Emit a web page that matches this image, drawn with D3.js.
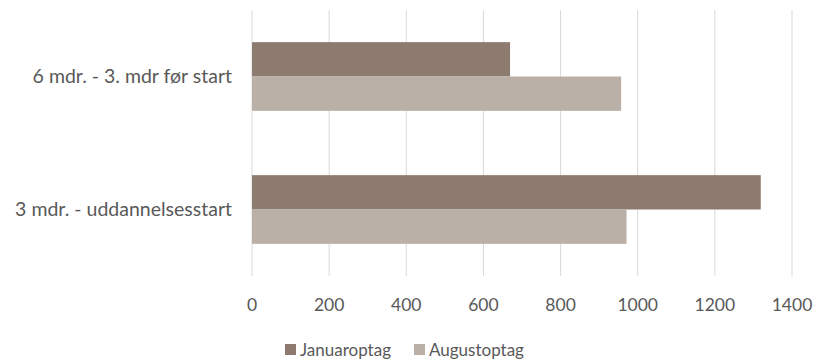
<!DOCTYPE html>
<html><head><meta charset="utf-8">
<script src="https://cdn.jsdelivr.net/npm/d3@7"></script>
<style>body{margin:0;background:#fff}svg{display:block}text{font-family:Lato,"Open Sans",sans-serif;fill:#595959}</style>
</head><body><svg id="c" width="813" height="359"></svg>
<script>
const categories = ["6 mdr. - 3. mdr før start", "3 mdr. - uddannelsesstart"];
const seriesNames = ["Januaroptag", "Augustoptag"];
const januar = [669, 1319];
const august = [957, 971];
const ticks = [0, 200, 400, 600, 800, 1000, 1200, 1400];
const colors = ["#8d7b6f", "#bbb0a7"];

(function () {
const svg = d3.select("#c");
const pL = 252, pR = 792, pT = 10, pB = 276;
const x = d3.scaleLinear().domain([0, 1400]).range([pL, pR]);
const y = d3.scaleBand().domain(categories).range([pT, pB]);
const inner = d3.scaleBand().domain(seriesNames).range([0, 68.7]);
const values = [januar, august];

svg.append("g").selectAll("line").data(ticks).join("line")
  .attr("x1", d => x(d)).attr("x2", d => x(d))
  .attr("y1", pT).attr("y2", pB)
  .attr("stroke", "#d9d9d9").attr("stroke-width", 1);

categories.forEach((c, ci) => {
  const y0 = y(c) + (y.bandwidth() - 68.7) / 2;
  seriesNames.forEach((s, si) => {
    svg.append("rect")
      .attr("x", x(0)).attr("y", y0 + inner(s))
      .attr("width", x(values[si][ci]) - x(0))
      .attr("height", inner.bandwidth())
      .attr("fill", colors[si]);
  });
});

svg.append("g").selectAll("text").data(ticks).join("text")
  .attr("x", d => x(d)).attr("y", 305).attr("dy", "0.35em")
  .attr("text-anchor", "middle").attr("font-size", 17.5).text(d => d);

svg.append("g").selectAll("text").data(categories).join("text")
  .attr("x", 232).attr("y", d => y(d) + y.bandwidth() / 2).attr("dy", "0.35em")
  .attr("text-anchor", "end").attr("font-size", 19.5).text(d => d);

const legX = [285, 414];
seriesNames.forEach((s, i) => {
  svg.append("rect").attr("x", legX[i]).attr("y", 344).attr("width", 11).attr("height", 11).attr("fill", colors[i]);
  svg.append("text").attr("x", legX[i] + 15).attr("y", 350).attr("dy", "0.35em")
    .attr("font-size", 17).text(s);
});
})();
</script></body></html>
